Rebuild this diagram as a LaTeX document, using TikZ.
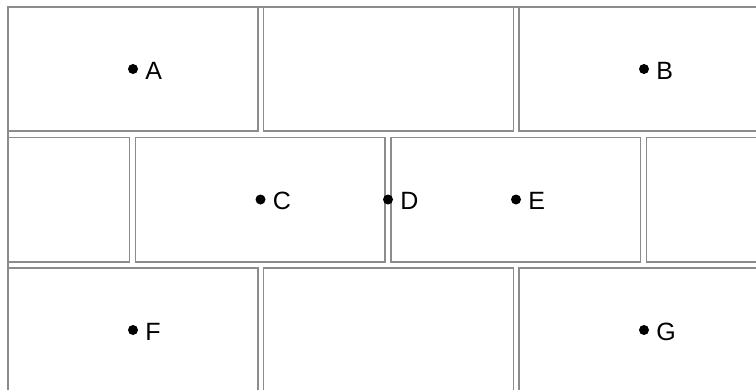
\documentclass[tikz,border=0pt]{standalone}
\usepackage{fontspec}
\setmainfont{Liberation Sans}
\usepackage{tikz}
\usetikzlibrary{positioning}
\tikzstyle{dot} = [fill=black,inner sep=0pt,circle,minimum size=10pt]
\tikzstyle{brick} = [draw=black!45,line width=1.3pt]
\tikzstyle{lab} = [font=\fontsize{25}{28}\selectfont,inner sep=1pt]

\begin{document}
\begin{tikzpicture}[x=1pt,y=-1pt]
        \useasboundingbox (0,0) rectangle (756,389);
        \begin{scope}
        \clip (8,7) rectangle (760,395);
        % rows 1 and 3
        \foreach \k in {0,1,2} {
            \draw[brick] (8+255.5*\k,7) rectangle ++(250,124);
            \draw[brick] (8+255.5*\k,268) rectangle ++(250,124);
        }
        % middle row, shifted by half a brick
        \foreach \k in {0,1,2,3}
            \draw[brick] (-120+255.5*\k,137.5) rectangle ++(249.5,124.5);
        \end{scope}
        \draw[brick] (8,395) -- (8,7) -- (760,7);

        \node[dot] (A) at (133,69) {};
        \node[dot] (B) at (644,69) {};
        \node[dot] (C) at (260.5,199.5) {};
        \node[dot] (D) at (388,199.5) {};
        \node[dot] (E) at (516,199.5) {};
        \node[dot] (F) at (133,330) {};
        \node[dot] (G) at (644,330) {};

        \node[lab,right=6pt of A,yshift=-1.5pt] (a) {A};
        \node[lab,right=6pt of B,yshift=-1.5pt] (b) {B};
        \node[lab,right=6pt of C,yshift=-1.5pt] (c) {C};
        \node[lab,right=6pt of D,yshift=-1.5pt] (d) {D};
        \node[lab,right=6pt of E,yshift=-1.5pt] (e) {E};
        \node[lab,right=6pt of F,yshift=-1.5pt] (f) {F};
        \node[lab,right=6pt of G,yshift=-1.5pt] (g) {G};
\end{tikzpicture}
\end{document}
